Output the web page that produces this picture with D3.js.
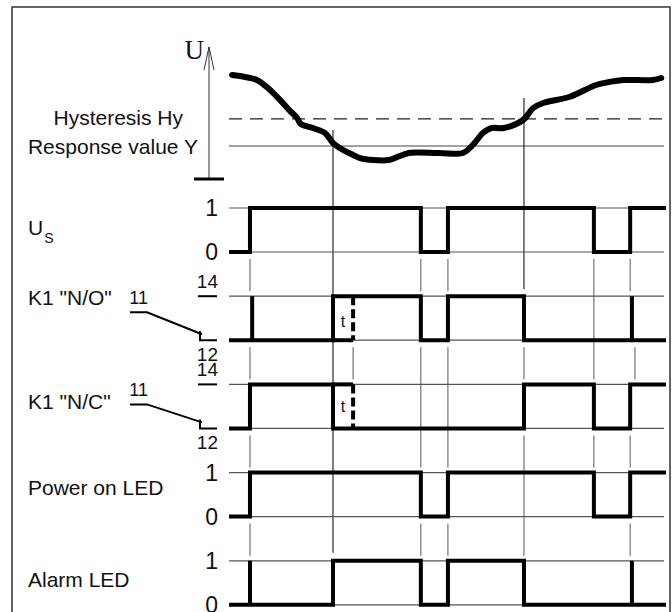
<!DOCTYPE html>
<html><head><meta charset="utf-8">
<script src="https://cdn.jsdelivr.net/npm/d3@7"></script>
<style>body{margin:0;background:#fff}svg{display:block}text{font-family:"Liberation Sans",Arial,sans-serif;fill:#111}</style>
</head><body>
<svg id="c" width="672" height="612"></svg>
<script>
// ---- data ----
// time axis (arbitrary units 0..100)
const curveT = [0.7,3.7,6.4,8.9,11.7,14.2,15.6,16.4,19.2,22.0,23.8,26.1,28.4,30.0,33.0,36.6,39.1,41.2,48.1,53.5,55.8,58.1,60.0,62.9,67.3,69.6,71.9,77.8,84.0,87.0,90.2,97.0,98.9];
const curveU = [78.8,77.3,75.0,68.9,59.8,50.8,46.2,41.7,38.6,34.8,27.3,22.0,18.2,15.9,14.4,14.4,17.4,19.7,19.7,19.7,25.8,34.8,38.6,38.6,44.7,53.8,57.6,62.1,71.2,73.5,75.0,75.0,76.5];
const responseValue = 25;
const hysteresisValue = 45.5;

const events = {on:4.8, resp:23.8, delay:28.4, fail1:43.9, back1:50.1, recover:67.5, fail2:83.5, back2:91.8, end:100};

const rowLabels = ["U", "K1 \"N/O\"", "K1 \"N/C\"", "Power on LED", "Alarm LED"];
const levelLabels = [["1","0"],["14","12"],["14","12"],["1","0"],["1","0"]];

// step signals: [time, level] (level 1 = upper line)
const sigUs    = [[0,0],[4.8,1],[43.9,0],[50.1,1],[83.5,0],[91.8,1],[100,1]];
const sigNO    = [[0,0],[23.8,1],[43.9,0],[50.1,1],[67.5,0],[100,0]];
const sigNC    = [[0,0],[4.8,1],[23.8,0],[67.5,1],[83.5,0],[91.8,1],[100,1]];
const sigPower = [[0,0],[4.8,1],[43.9,0],[50.1,1],[83.5,0],[91.8,1],[100,1]];
const sigAlarm = [[0,0],[23.8,1],[43.9,0],[50.1,1],[67.5,0],[100,0]];
const signals = [sigUs, sigNO, sigNC, sigPower, sigAlarm];
const spikes = [[], [5.3, 92.2], [], [], [4.8, 92.2]];

// short connector ticks in the gaps between rows (gap i = below row i)
const gapTicks = [[4.8,43.9,50.1,91.8],[4.8,28.4,67.5,92.9],[4.8,83.5,91.8],[4.8,43.9,50.1,91.8]];
// longer connectors spanning from gap a to gap b
const longTicks = [{t:83.5,a:0,b:1},{t:43.9,a:1,b:2},{t:50.1,a:1,b:2},{t:67.5,a:2,b:3}];

// ---- drawing ----
const svg = d3.select("#c");
const x = d3.scaleLinear().domain([0,100]).range([229,666]);
const yU = d3.scaleLinear().domain([0,100]).range([179,47]);
const rowTop = i => 208 + i*88.2;
const rowLow = i => rowTop(i) + 44;
const refEnd = 664;

// frame
svg.append("rect").attr("x",12).attr("y",7).attr("width",658).attr("height",620)
  .attr("fill","none").attr("stroke","#333").attr("stroke-width",1.5);

// U axis
svg.append("line").attr("x1",209).attr("x2",209).attr("y1",179).attr("y2",47).attr("stroke","#333").attr("stroke-width",1);
svg.append("path").attr("d","M204,70L209,47L214,70").attr("fill","none").attr("stroke","#333").attr("stroke-width",1);
svg.append("line").attr("x1",194).attr("x2",224).attr("y1",179).attr("y2",179).attr("stroke","#000").attr("stroke-width",3);
svg.append("text").attr("x",204).attr("y",59).attr("text-anchor","end")
  .style("font-family","'Liberation Serif','Times New Roman',serif").style("font-size","27px").text("U");

// threshold lines
svg.append("line").attr("x1",x(0)).attr("x2",669).attr("y1",yU(hysteresisValue)).attr("y2",yU(hysteresisValue))
  .attr("stroke","#222").attr("stroke-width",1.3).attr("stroke-dasharray","13,8");
svg.append("line").attr("x1",x(0)).attr("x2",refEnd).attr("y1",yU(responseValue)).attr("y2",yU(responseValue))
  .attr("stroke","#444").attr("stroke-width",1.2);
svg.append("text").attr("x",183).attr("y",125).attr("text-anchor","end").style("font-size","21px").text("Hysteresis Hy");
svg.append("text").attr("x",198).attr("y",154).attr("text-anchor","end").style("font-size","21px").text("Response value Y");

// long drop lines from curve crossings
svg.append("line").attr("x1",x(events.resp)).attr("x2",x(events.resp)).attr("y1",130).attr("y2",rowTop(4)-8).attr("stroke","#000").attr("stroke-width",1);
svg.append("line").attr("x1",x(events.recover)).attr("x2",x(events.recover)).attr("y1",98).attr("y2",rowTop(1)-7).attr("stroke","#000").attr("stroke-width",1);

// connector ticks
const gapTop = i => rowLow(i) + 7;
const gapBot = i => rowTop(i+1) - 5;
gapTicks.forEach((ts,i) => ts.forEach(t => {
  svg.append("line").attr("x1",x(t)).attr("x2",x(t)).attr("y1",gapTop(i)).attr("y2",gapBot(i)).attr("stroke","#555").attr("stroke-width",1);
}));
longTicks.forEach(d => {
  svg.append("line").attr("x1",x(d.t)).attr("x2",x(d.t)).attr("y1",gapTop(d.a)).attr("y2",gapBot(d.b)).attr("stroke","#555").attr("stroke-width",1);
});

// rows
const stepLine = (i) => d3.line().curve(d3.curveStepAfter).x(d => x(d[0])).y(d => d[1] ? rowTop(i) : rowLow(i));
signals.forEach((sig,i) => {
  [rowTop(i), rowLow(i)].forEach(yy => svg.append("line").attr("x1",x(0)).attr("x2",refEnd).attr("y1",yy).attr("y2",yy).attr("stroke","#555").attr("stroke-width",1.2));
  svg.append("path").attr("d",stepLine(i)(sig)).attr("fill","none").attr("stroke","#000").attr("stroke-width",4).attr("stroke-linejoin","miter");
  spikes[i].forEach(t => svg.append("line").attr("x1",x(t)).attr("x2",x(t)).attr("y1",rowTop(i)).attr("y2",rowLow(i)).attr("stroke","#000").attr("stroke-width",4));
});

// delay boxes (t) for relay rows
[1,2].forEach(i => {
  const other = i===1 ? rowLow(i) : rowTop(i);
  svg.append("line").attr("x1",x(events.resp)).attr("x2",x(events.delay)).attr("y1",other).attr("y2",other).attr("stroke","#000").attr("stroke-width",4);
  svg.append("line").attr("x1",x(events.delay)).attr("x2",x(events.delay)).attr("y1",rowTop(i)).attr("y2",rowLow(i))
    .attr("stroke","#000").attr("stroke-width",4).attr("stroke-dasharray","9,4");
  svg.append("text").attr("x",(x(events.resp)+x(events.delay))/2).attr("y",i===1?327:412).attr("text-anchor","middle").style("font-size","16px").text("t");
});

// row labels
svg.append("text").attr("x",28).attr("y",235).style("font-size","21px").text("U")
  .append("tspan").attr("dx",1).attr("dy",8).style("font-size","14px").text("S");
svg.append("text").attr("x",28).attr("y",305).style("font-size","21px").text(rowLabels[1]);
svg.append("text").attr("x",28).attr("y",409).style("font-size","21px").text(rowLabels[2]);
svg.append("text").attr("x",28).attr("y",495).style("font-size","21px").text(rowLabels[3]);
svg.append("text").attr("x",28).attr("y",587).style("font-size","21px").text(rowLabels[4]);

// level labels
[0,3,4].forEach(i => {
  svg.append("text").attr("x",218).attr("y",rowTop(i)+8).attr("text-anchor","end").style("font-size","23px").text(levelLabels[i][0]);
  svg.append("text").attr("x",218).attr("y",rowLow(i)+8).attr("text-anchor","end").style("font-size","23px").text(levelLabels[i][1]);
});
[1,2].forEach(i => {
  const t = rowTop(i), l = rowLow(i);
  svg.append("text").attr("x",218).attr("y",t-8).attr("text-anchor","end").style("font-size","19px").text(levelLabels[i][0]);
  svg.append("line").attr("x1",198).attr("x2",217).attr("y1",t).attr("y2",t).attr("stroke","#000").attr("stroke-width",2);
  svg.append("text").attr("x",218).attr("y",l+21).attr("text-anchor","end").style("font-size","19px").text(levelLabels[i][1]);
  const ly = i===1 ? t+16 : t+20;
  svg.append("text").attr("x",148).attr("y",ly-8).attr("text-anchor","end").style("font-size","18px").text("11");
  svg.append("path").attr("d",`M130,${ly}L147,${ly}L202,${l-6}`).attr("fill","none").attr("stroke","#000").attr("stroke-width",2);
  svg.append("path").attr("d",`M200,${l-9}L200,${l}L217,${l}`).attr("fill","none").attr("stroke","#000").attr("stroke-width",2);
});

// U curve
const pts = curveT.map((t,k) => [t, curveU[k]]);
svg.append("path").attr("d", d3.line().curve(d3.curveCatmullRom).x(d=>x(d[0])).y(d=>yU(d[1]))(pts))
  .attr("fill","none").attr("stroke","#000").attr("stroke-width",6).attr("stroke-linecap","round").attr("stroke-linejoin","round");
</script>
</body></html>
